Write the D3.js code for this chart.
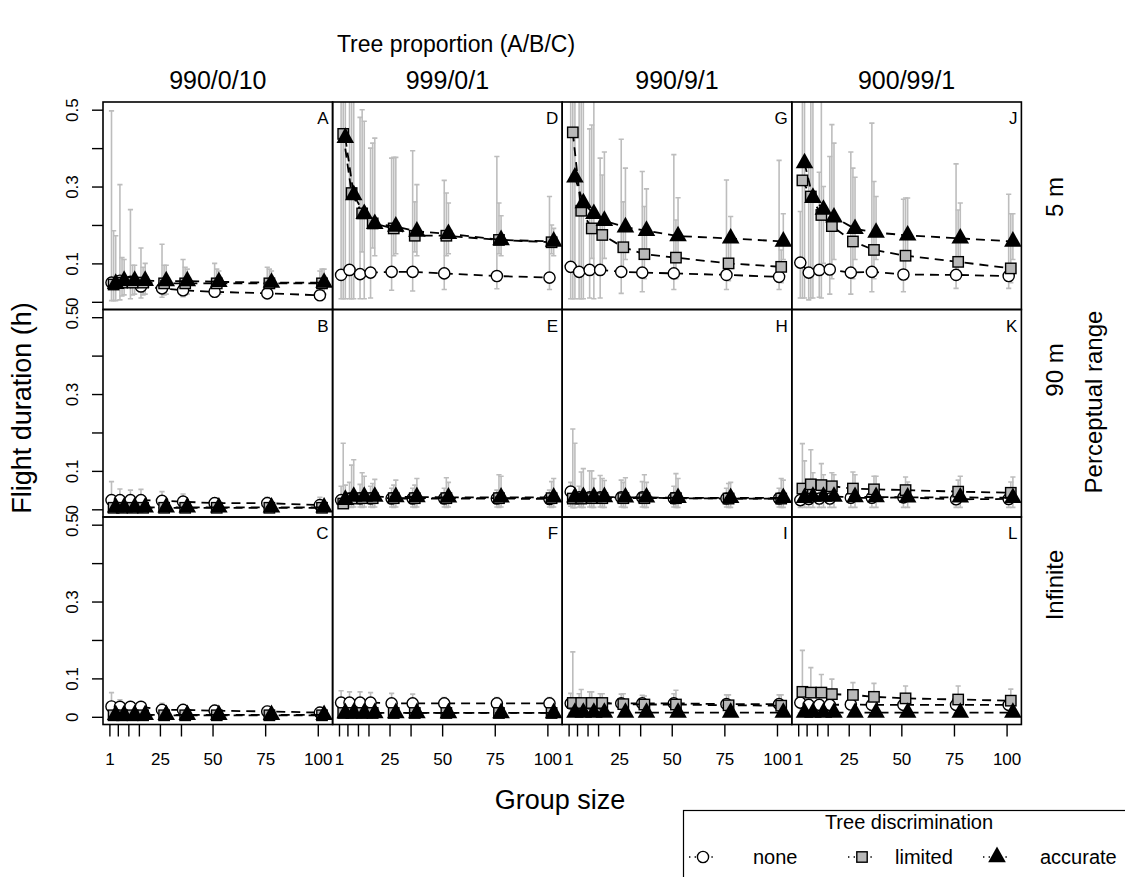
<!DOCTYPE html>
<html>
<head>
<meta charset="utf-8">
<script src="https://cdn.jsdelivr.net/npm/d3@7"></script>
<style>
  body { margin: 0; background: #fff; }
  text { font-family: "Liberation Sans", Arial, Helvetica, sans-serif; fill: #000; }
</style>
</head>
<body>
<script>
const width = 1125, height = 877;

// x values and tick labels
const groupSizes = [1, 5, 10, 15, 25, 35, 50, 75, 100];
const xLabels = [1, 25, 50, 75, 100];
const yTicks = [0, 0.1, 0.2, 0.3, 0.4, 0.5];
const yLabels = [0, 0.1, 0.3, 0.5];
const proportions = ["990/0/10", "999/0/1", "990/9/1", "900/99/1"];
const ranges = ["5 m", "90 m", "Infinite"];
const seriesNames = ["none", "limited", "accurate"];

// each entry: [mean, lower, upper] per group size
const A_none     = [[0.050,0.003,0.497],[0.055,0.005,0.305],[0.052,0.008,0.240],[0.040,0.010,0.140],[0.035,0.012,0.150],[0.030,0.013,0.110],[0.026,0.012,0.100],[0.022,0.012,0.090],[0.017,0.010,0.080]];
const A_limited  = [[0.045,0.003,0.185],[0.050,0.015,0.115],[0.050,0.018,0.095],[0.050,0.018,0.090],[0.048,0.018,0.095],[0.048,0.018,0.090],[0.048,0.018,0.085],[0.048,0.018,0.085],[0.048,0.018,0.085]];
const A_accurate = [[0.047,0.003,0.172],[0.055,0.018,0.110],[0.055,0.020,0.095],[0.055,0.020,0.100],[0.054,0.020,0.095],[0.054,0.020,0.085],[0.052,0.020,0.080],[0.050,0.020,0.080],[0.050,0.020,0.085]];

const B_none     = [[0.024,0.005,0.072],[0.024,0.005,0.053],[0.024,0.005,0.050],[0.024,0.005,0.052],[0.022,0.005,0.046],[0.020,0.005,0.040],[0.016,0.004,0.030],[0.016,0.004,0.031],[0.011,0.003,0.031]];
const B_limited  = [[0.004,0.001,0.015],[0.004,0.001,0.012],[0.004,0.001,0.012],[0.004,0.001,0.012],[0.004,0.001,0.012],[0.004,0.001,0.012],[0.004,0.001,0.012],[0.004,0.001,0.012],[0.004,0.001,0.012]];
const B_accurate = [[0.005,0.001,0.015],[0.005,0.001,0.012],[0.005,0.001,0.012],[0.005,0.001,0.012],[0.005,0.001,0.012],[0.005,0.001,0.012],[0.005,0.001,0.012],[0.005,0.001,0.012],[0.005,0.001,0.012]];

const C_none     = [[0.027,0.005,0.063],[0.026,0.005,0.044],[0.026,0.005,0.040],[0.026,0.005,0.040],[0.018,0.004,0.035],[0.018,0.004,0.032],[0.016,0.004,0.030],[0.014,0.003,0.028],[0.011,0.003,0.025]];
const C_limited  = [[0.004,0.001,0.010],[0.004,0.001,0.010],[0.004,0.001,0.010],[0.004,0.001,0.010],[0.004,0.001,0.010],[0.004,0.001,0.010],[0.004,0.001,0.010],[0.004,0.001,0.010],[0.004,0.001,0.010]];
const C_accurate = [[0.005,0.001,0.010],[0.005,0.001,0.010],[0.005,0.001,0.010],[0.005,0.001,0.010],[0.005,0.001,0.010],[0.005,0.001,0.010],[0.005,0.001,0.010],[0.005,0.001,0.010],[0.005,0.001,0.010]];

const D_none     = [[0.070,0.008,0.700],[0.083,0.008,0.700],[0.072,0.008,0.480],[0.076,0.010,0.400],[0.078,0.030,0.374],[0.078,0.028,0.393],[0.074,0.032,0.316],[0.067,0.034,0.378],[0.063,0.032,0.274]];
const D_limited  = [[0.437,0.008,0.700],[0.283,0.008,0.700],[0.230,0.130,0.500],[0.204,0.140,0.413],[0.191,0.120,0.376],[0.172,0.130,0.260],[0.172,0.120,0.283],[0.161,0.125,0.257],[0.155,0.125,0.200]];
const D_accurate = [[0.427,0.008,0.700],[0.278,0.008,0.700],[0.229,0.008,0.470],[0.203,0.120,0.426],[0.196,0.125,0.376],[0.183,0.120,0.305],[0.177,0.125,0.257],[0.161,0.120,0.224],[0.157,0.120,0.191]];

const E_none     = [[0.024,0.006,0.060],[0.028,0.006,0.070],[0.028,0.006,0.065],[0.028,0.006,0.060],[0.028,0.006,0.055],[0.028,0.006,0.055],[0.028,0.006,0.055],[0.028,0.006,0.050],[0.027,0.006,0.050]];
const E_limited  = [[0.015,0.004,0.172],[0.028,0.005,0.115],[0.029,0.005,0.095],[0.029,0.005,0.067],[0.029,0.005,0.063],[0.029,0.005,0.063],[0.029,0.005,0.082],[0.029,0.005,0.090],[0.029,0.005,0.072]];
const E_accurate = [[0.025,0.004,0.063],[0.033,0.006,0.129],[0.033,0.006,0.086],[0.033,0.006,0.078],[0.032,0.006,0.076],[0.032,0.006,0.080],[0.031,0.006,0.070],[0.031,0.006,0.086],[0.031,0.006,0.080]];

const F_none     = [[0.037,0.010,0.068],[0.037,0.010,0.065],[0.037,0.010,0.065],[0.037,0.010,0.063],[0.035,0.010,0.061],[0.035,0.010,0.059],[0.035,0.010,0.050],[0.035,0.010,0.050],[0.035,0.010,0.050]];
const F_limited  = [[0.010,0.002,0.025],[0.010,0.002,0.022],[0.010,0.002,0.022],[0.010,0.002,0.022],[0.010,0.002,0.022],[0.010,0.002,0.022],[0.010,0.002,0.022],[0.010,0.002,0.022],[0.010,0.002,0.022]];
const F_accurate = [[0.010,0.002,0.025],[0.010,0.002,0.022],[0.010,0.002,0.022],[0.010,0.002,0.022],[0.010,0.002,0.022],[0.010,0.002,0.022],[0.010,0.002,0.022],[0.010,0.002,0.022],[0.010,0.002,0.022]];

const G_none     = [[0.091,0.008,0.700],[0.078,0.008,0.700],[0.083,0.010,0.450],[0.083,0.010,0.374],[0.078,0.022,0.423],[0.076,0.026,0.339],[0.074,0.032,0.383],[0.070,0.032,0.317],[0.065,0.032,0.368]];
const G_limited  = [[0.441,0.008,0.700],[0.237,0.008,0.700],[0.191,0.113,0.460],[0.174,0.090,0.330],[0.142,0.070,0.260],[0.124,0.060,0.248],[0.115,0.060,0.213],[0.100,0.055,0.165],[0.091,0.050,0.135]];
const G_accurate = [[0.324,0.008,0.700],[0.257,0.008,0.700],[0.229,0.008,0.700],[0.211,0.113,0.390],[0.194,0.110,0.348],[0.185,0.115,0.294],[0.171,0.110,0.271],[0.165,0.110,0.222],[0.157,0.110,0.229]];

const H_none     = [[0.046,0.008,0.070],[0.031,0.006,0.060],[0.031,0.006,0.100],[0.031,0.006,0.088],[0.031,0.006,0.076],[0.031,0.006,0.072],[0.029,0.006,0.060],[0.028,0.006,0.055],[0.028,0.006,0.055]];
const H_limited  = [[0.028,0.004,0.209],[0.028,0.005,0.097],[0.029,0.005,0.100],[0.029,0.005,0.080],[0.029,0.005,0.070],[0.029,0.005,0.090],[0.029,0.005,0.093],[0.028,0.005,0.067],[0.028,0.005,0.080]];
const H_accurate = [[0.031,0.004,0.172],[0.032,0.005,0.106],[0.032,0.005,0.080],[0.032,0.005,0.075],[0.031,0.005,0.082],[0.031,0.005,0.070],[0.030,0.005,0.080],[0.030,0.005,0.070],[0.030,0.005,0.076]];

const I_none     = [[0.035,0.010,0.061],[0.035,0.010,0.060],[0.035,0.010,0.065],[0.035,0.010,0.060],[0.035,0.010,0.059],[0.035,0.010,0.056],[0.035,0.010,0.060],[0.033,0.010,0.057],[0.033,0.010,0.057]];
const I_limited  = [[0.036,0.008,0.169],[0.036,0.008,0.071],[0.036,0.008,0.065],[0.036,0.008,0.060],[0.033,0.008,0.060],[0.032,0.008,0.054],[0.032,0.008,0.069],[0.030,0.008,0.057],[0.029,0.008,0.057]];
const I_accurate = [[0.011,0.002,0.025],[0.011,0.002,0.025],[0.011,0.002,0.025],[0.011,0.002,0.025],[0.011,0.002,0.025],[0.011,0.002,0.025],[0.011,0.002,0.025],[0.011,0.002,0.025],[0.011,0.002,0.025]];

const J_none     = [[0.102,0.010,0.235],[0.076,0.005,0.350],[0.083,0.012,0.337],[0.084,0.020,0.378],[0.076,0.020,0.390],[0.078,0.026,0.465],[0.071,0.026,0.267],[0.070,0.035,0.359],[0.067,0.035,0.280]];
const J_limited  = [[0.316,0.010,0.700],[0.274,0.010,0.700],[0.226,0.010,0.700],[0.197,0.060,0.461],[0.157,0.060,0.348],[0.135,0.060,0.313],[0.120,0.060,0.270],[0.104,0.060,0.239],[0.087,0.050,0.229]];
const J_accurate = [[0.361,0.010,0.700],[0.271,0.010,0.700],[0.240,0.100,0.300],[0.220,0.110,0.413],[0.190,0.110,0.324],[0.180,0.110,0.274],[0.173,0.110,0.270],[0.165,0.110,0.257],[0.157,0.110,0.229]];

const K_none     = [[0.024,0.005,0.045],[0.027,0.005,0.050],[0.028,0.005,0.050],[0.028,0.005,0.050],[0.030,0.005,0.050],[0.030,0.005,0.050],[0.031,0.005,0.050],[0.026,0.005,0.050],[0.027,0.005,0.050]];
const K_limited  = [[0.054,0.010,0.171],[0.065,0.015,0.155],[0.063,0.020,0.119],[0.060,0.020,0.095],[0.054,0.020,0.097],[0.052,0.020,0.086],[0.050,0.020,0.084],[0.046,0.020,0.076],[0.043,0.020,0.071]];
const K_accurate = [[0.030,0.005,0.126],[0.033,0.005,0.095],[0.033,0.005,0.090],[0.033,0.005,0.090],[0.032,0.005,0.090],[0.032,0.005,0.086],[0.031,0.005,0.071],[0.031,0.005,0.086],[0.030,0.005,0.084]];

const L_none     = [[0.037,0.010,0.055],[0.031,0.008,0.050],[0.031,0.008,0.050],[0.031,0.008,0.050],[0.032,0.008,0.050],[0.031,0.008,0.050],[0.031,0.008,0.050],[0.031,0.008,0.050],[0.031,0.008,0.050]];
const L_limited  = [[0.065,0.020,0.173],[0.063,0.020,0.128],[0.063,0.020,0.110],[0.059,0.020,0.098],[0.057,0.020,0.089],[0.052,0.020,0.087],[0.048,0.020,0.080],[0.045,0.020,0.080],[0.042,0.020,0.072]];
const L_accurate = [[0.011,0.002,0.020],[0.011,0.002,0.020],[0.011,0.002,0.020],[0.011,0.002,0.020],[0.011,0.002,0.020],[0.011,0.002,0.020],[0.011,0.002,0.020],[0.011,0.002,0.020],[0.011,0.002,0.020]];

// panels: column = tree proportion, row = perceptual range
const panels = [
  { id: "A", col: 0, row: 0, data: [A_none, A_limited, A_accurate] },
  { id: "B", col: 0, row: 1, data: [B_none, B_limited, B_accurate] },
  { id: "C", col: 0, row: 2, data: [C_none, C_limited, C_accurate] },
  { id: "D", col: 1, row: 0, data: [D_none, D_limited, D_accurate] },
  { id: "E", col: 1, row: 1, data: [E_none, E_limited, E_accurate] },
  { id: "F", col: 1, row: 2, data: [F_none, F_limited, F_accurate] },
  { id: "G", col: 2, row: 0, data: [G_none, G_limited, G_accurate] },
  { id: "H", col: 2, row: 1, data: [H_none, H_limited, H_accurate] },
  { id: "I", col: 2, row: 2, data: [I_none, I_limited, I_accurate] },
  { id: "J", col: 3, row: 0, data: [J_none, J_limited, J_accurate] },
  { id: "K", col: 3, row: 1, data: [K_none, K_limited, K_accurate] },
  { id: "L", col: 3, row: 2, data: [L_none, L_limited, L_accurate] }
];

const dodge = [1, 2, 3];   // points of each series are shifted right a little
const plotLeft = 103, plotTop = 102, pw = 229.6, ph = 207.5;
const barColor = "#bdbdbd", squareFill = "#b8b8b8";

const svg = d3.select("body").append("svg")
    .attr("width", width)
    .attr("height", height);

const x = d3.scaleLinear().domain([-2.04, 107.04]).range([0, pw]);
const y = d3.scaleLinear().domain([-0.02, 0.52]).range([ph, 0]);

const triPath = "M0,-10.4L8.8,5.2L-8.8,5.2Z";

function marker(sel, s) {
    if (s === 0) {
        sel.append("circle").attr("r", 5.6)
            .attr("fill", "#fff").attr("stroke", "#000").attr("stroke-width", 1.4);
    } else if (s === 1) {
        sel.append("rect").attr("x", -5.2).attr("y", -5.2).attr("width", 10.4).attr("height", 10.4)
            .attr("fill", squareFill).attr("stroke", "#000").attr("stroke-width", 1.4);
    } else {
        sel.append("path").attr("d", triPath).attr("fill", "#000");
    }
}

const defs = svg.append("defs");

panels.forEach(p => {
    const px = plotLeft + p.col * pw, py = plotTop + p.row * ph;
    const g = svg.append("g").attr("transform", `translate(${px},${py})`);

    defs.append("clipPath").attr("id", "clip-" + p.id)
        .append("rect").attr("width", pw).attr("height", ph);
    const plot = g.append("g").attr("clip-path", `url(#clip-${p.id})`);

    // error bars
    p.data.forEach((rows, s) => {
        rows.forEach((d, i) => {
            const cx = x(groupSizes[i] + dodge[s]);
            plot.append("line")
                .attr("x1", cx).attr("x2", cx)
                .attr("y1", y(d[1])).attr("y2", y(d[2]))
                .attr("stroke", barColor).attr("stroke-width", 1.6);
            [d[1], d[2]].forEach(v => {
                plot.append("line")
                    .attr("x1", cx - 2.6).attr("x2", cx + 2.6)
                    .attr("y1", y(v)).attr("y2", y(v))
                    .attr("stroke", barColor).attr("stroke-width", 1.6);
            });
        });
    });

    // dashed lines and points, series by series
    const line = d3.line()
        .x((d, i) => x(groupSizes[i] + d.off))
        .y(d => y(d.v));
    p.data.forEach((rows, s) => {
        plot.append("path")
            .datum(rows.map(d => ({ v: d[0], off: dodge[s] })))
            .attr("d", line)
            .attr("fill", "none")
            .attr("stroke", "#000")
            .attr("stroke-width", 1.8)
            .attr("stroke-dasharray", "9,6");
        rows.forEach((d, i) => {
            const m = plot.append("g")
                .attr("transform", `translate(${x(groupSizes[i] + dodge[s])},${y(d[0])})`);
            marker(m, s);
        });
    });

    // panel box
    g.append("rect").attr("width", pw).attr("height", ph)
        .attr("fill", "none").attr("stroke", "#000").attr("stroke-width", 1.6);

    // panel letter
    g.append("text")
        .attr("x", pw - 4).attr("y", 22)
        .attr("text-anchor", "end")
        .attr("font-size", "17px")
        .text(p.id);

    // y axis on first column
    if (p.col === 0) {
        const ay = g.append("g")
            .call(d3.axisLeft(y).tickValues(yTicks).tickSize(11)
                .tickFormat(d => yLabels.includes(d) ? d3.format("")(d) : ""));
        ay.select(".domain").remove();
        ay.selectAll("line").attr("stroke", "#000").attr("stroke-width", 1.4);
        ay.selectAll("text")
            .attr("x", null).attr("dy", null)
            .attr("transform", "translate(-25,0) rotate(-90)")
            .attr("text-anchor", "middle")
            .attr("font-size", "17px")
            .attr("font-family", "Liberation Sans, Arial, sans-serif")
            .attr("fill", "#000");
    }

    // x axis on last row
    if (p.row === 2) {
        const ax = g.append("g")
            .attr("transform", `translate(0,${ph})`)
            .call(d3.axisBottom(x).tickValues(groupSizes).tickSize(12)
                .tickFormat(d => xLabels.includes(d) ? d : ""));
        ax.select(".domain").remove();
        ax.selectAll("line").attr("stroke", "#000").attr("stroke-width", 1.4);
        ax.selectAll("text")
            .attr("y", 28)
            .attr("font-size", "17px")
            .attr("font-family", "Liberation Sans, Arial, sans-serif")
            .attr("fill", "#000");
    }
});

// column headers and top title
proportions.forEach((t, c) => {
    svg.append("text")
        .attr("x", plotLeft + (c + 0.5) * pw).attr("y", 89)
        .attr("text-anchor", "middle")
        .attr("font-size", "25px")
        .text(t);
});
svg.append("text")
    .attr("x", 456).attr("y", 52)
    .attr("text-anchor", "middle")
    .attr("font-size", "23px")
    .text("Tree proportion (A/B/C)");

// right-side row labels
const rangeY = [197, 370, 585];
ranges.forEach((t, r) => {
    svg.append("text")
        .attr("transform", `translate(1063,${rangeY[r]}) rotate(-90)`)
        .attr("text-anchor", "middle")
        .attr("font-size", "24px")
        .text(t);
});
svg.append("text")
    .attr("transform", "translate(1102,402) rotate(-90)")
    .attr("text-anchor", "middle")
    .attr("font-size", "24px")
    .text("Perceptual range");

// axis titles
svg.append("text")
    .attr("transform", "translate(31,408) rotate(-90)")
    .attr("text-anchor", "middle")
    .attr("font-size", "27px")
    .text("Flight duration (h)");
svg.append("text")
    .attr("x", 560).attr("y", 809)
    .attr("text-anchor", "middle")
    .attr("font-size", "27px")
    .text("Group size");

// legend
const lg = svg.append("g");
lg.append("rect")
    .attr("x", 683.5).attr("y", 810.5).attr("width", 520).attr("height", 120)
    .attr("fill", "#fff").attr("stroke", "#000").attr("stroke-width", 1.2);
lg.append("text")
    .attr("x", 909).attr("y", 829)
    .attr("text-anchor", "middle")
    .attr("font-size", "20px")
    .text("Tree discrimination");
const legendX = [703, 862, 997];
const legendTextX = [753, 895, 1040];
seriesNames.forEach((name, s) => {
    lg.append("line")
        .attr("x1", legendX[s] - 14).attr("x2", legendX[s] + 14)
        .attr("y1", 857).attr("y2", 857)
        .attr("stroke", "#000").attr("stroke-width", 1.4)
        .attr("stroke-dasharray", "1.4,4.2");
    marker(lg.append("g").attr("transform", `translate(${legendX[s]},857)`), s);
    lg.append("text")
        .attr("x", legendTextX[s]).attr("y", 864)
        .attr("font-size", "20px")
        .text(name);
});
</script>
</body>
</html>
